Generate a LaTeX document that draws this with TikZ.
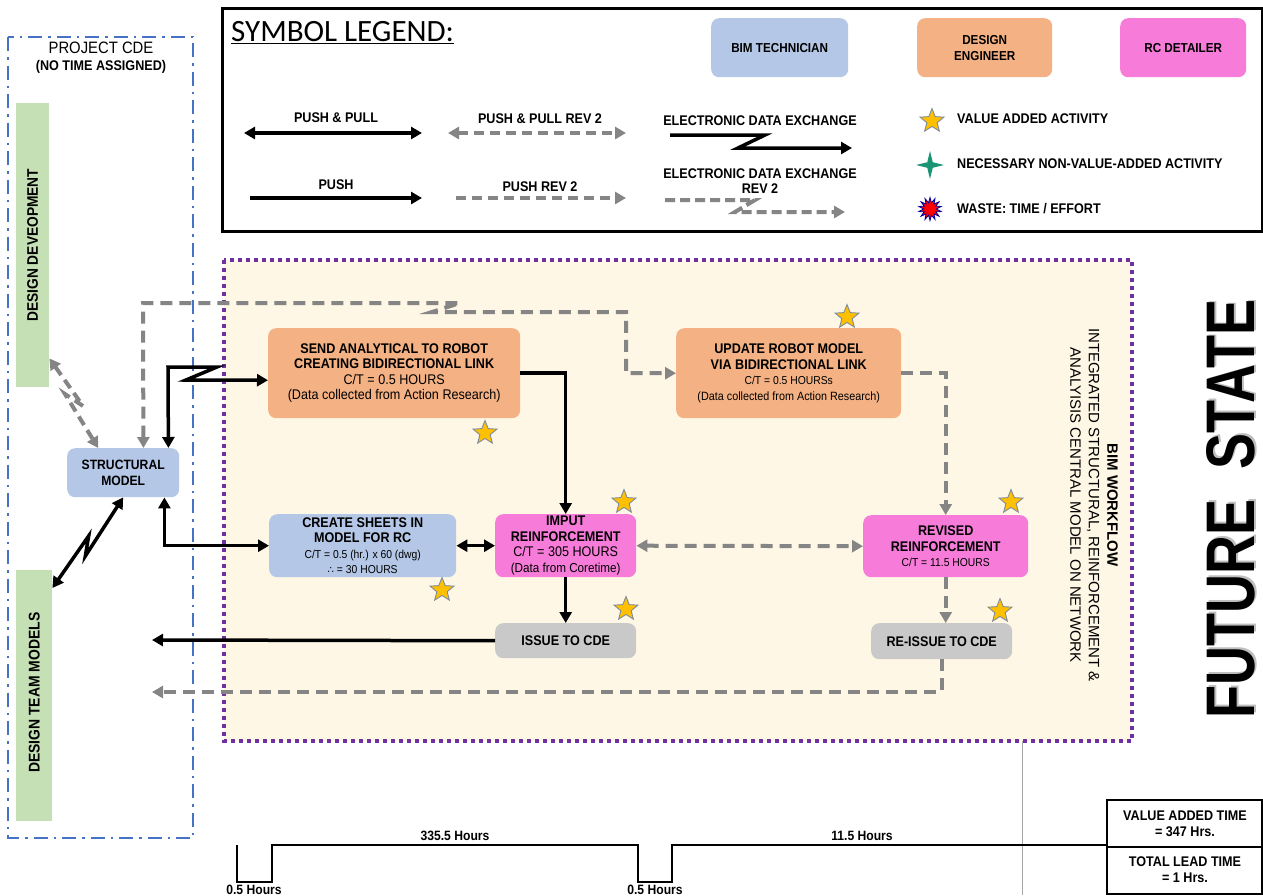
\documentclass[tikz,border=0pt]{standalone}
\usepackage{fontspec}
\setmainfont[FakeStretch=0.9]{Liberation Sans}
\newfontfamily\widesans{Liberation Sans}
\newfontfamily\titlefont{Carlito}
\newfontfamily\symfont{DejaVu Sans}
\usetikzlibrary{arrows.meta,shapes.geometric,calc}

\definecolor{bim}{HTML}{B4C7E7}
\definecolor{eng}{HTML}{F4B183}
\definecolor{rcd}{HTML}{F77BD9}
\definecolor{cdeg}{HTML}{C9C9C9}
\definecolor{barg}{HTML}{C5E0B4}
\definecolor{cream}{HTML}{FFF7E6}
\definecolor{purp}{HTML}{7030A0}
\definecolor{cdeblue}{HTML}{4472C4}
\definecolor{arrg}{HTML}{858585}
\definecolor{stary}{HTML}{FFC000}
\definecolor{starline}{HTML}{7F8C9C}
\definecolor{nnva}{HTML}{1B9473}

\newcommand\fb{\fontsize{14}{15.5}\selectfont\bfseries}
\newcommand\fr{\fontsize{14}{15.5}\selectfont\mdseries}
\newcommand\fs{\fontsize{11.5}{15.5}\selectfont\mdseries}
\newcommand\fl{\fontsize{14}{16}\selectfont\bfseries}

\tikzset{
  box/.style={rounded corners=8pt, inner sep=0pt, align=center, anchor=north west,
    font=\fontsize{14}{15.5}\selectfont\bfseries},
  bimbox/.style={box, fill=bim},
  engbox/.style={box, fill=eng},
  rcbox/.style={box, fill=rcd},
  cdebox/.style={box, fill=cdeg},
  keybox/.style={font=\fontsize{13}{16}\selectfont\bfseries},
  bar/.style={fill=barg, inner sep=0pt, anchor=north west},
  blk/.style={draw=black, line width=3.5pt, -{Triangle[length=11pt,width=12pt]}},
  blk2/.style={blk, {Triangle[length=11pt,width=12pt]}-{Triangle[length=11pt,width=12pt]}},
  gry/.style={draw=arrg, line width=4pt, dash pattern=on 12pt off 7pt, -{Triangle[length=11pt,width=12pt]}},
  gry2/.style={gry, {Triangle[length=11pt,width=12pt]}-{Triangle[length=11pt,width=12pt]}},
  vstar/.style={star, star points=5, star point ratio=2.3, minimum size=25pt, inner sep=0pt,
    fill=stary, draw=starline, line width=0.9pt},
  lbl/.style={font=\fl, inner sep=0pt},
}

\begin{document}
\begin{tikzpicture}[x=1pt,y=-1pt]
\useasboundingbox (0,0) rectangle (1263,895);
\clip (0,0) rectangle (1263,895);
\fill[white] (0,0) rectangle (1263,895);

% ---------- frames ----------
\draw[purp, line width=4pt, dash pattern=on 4pt off 4pt, fill=cream] (224,260) rectangle (1132,741);
\draw[cdeblue, line width=2.5pt, dash pattern=on 14pt off 6pt on 2.5pt off 6pt] (8,37) rectangle (193,838);
\draw[line width=3pt] (222,8) rectangle (1262,231);

% ---------- legend ----------
\node[anchor=west, inner sep=0pt] (ltitle) at (231,33) {\titlefont\fontsize{31}{31}\selectfont\underline{SYMBOL LEGEND:}};
\node[bimbox, keybox, minimum width=137pt, minimum height=59pt] (lbim) at (711,18) {BIM TECHNICIAN};
\node[engbox, keybox, minimum width=135pt, minimum height=59pt] (ldes) at (917,18) {DESIGN\\ENGINEER};
\node[rcbox, keybox, minimum width=126pt, minimum height=59pt] (lrc) at (1120,18) {RC DETAILER};

\node[lbl] (tpp) at (336,118) {PUSH \& PULL};
\coordinate (pp1) at (244,133); \coordinate (pp2) at (422,133);
\draw[blk2] (pp1) -- (pp2);
\node[lbl] (tppr) at (540,119) {PUSH \& PULL REV 2};
\coordinate (ppr1) at (448,133); \coordinate (ppr2) at (626,133);
\draw[gry2, dash pattern=on 10pt off 6pt] (ppr1) -- (ppr2);
\node[lbl] (tpu) at (336,185) {PUSH};
\coordinate (pu1) at (250,198); \coordinate (pu2) at (422,198);
\draw[blk] (pu1) -- (pu2);
\node[lbl] (tpur) at (540,187) {PUSH REV 2};
\coordinate (pur1) at (456,198); \coordinate (pur2) at (626,198);
\draw[gry, dash pattern=on 10pt off 6pt] (pur1) -- (pur2);
\node[lbl] (tede) at (760,121) {ELECTRONIC DATA EXCHANGE};
\coordinate (ede1) at (670,135); \coordinate (ede2) at (852,148);
\draw[blk] (ede1) -- (765,135) -- (738,148) -- (ede2);
\node[lbl, align=center, font=\fontsize{14}{15}\selectfont\bfseries] (tedr) at (760,181) {ELECTRONIC DATA EXCHANGE\\REV 2};
\coordinate (edr1) at (665,200); \coordinate (edr2) at (845,212);
\draw[gry, dash pattern=on 10pt off 5pt] (edr1) -- (755,200) -- (735,212) -- (edr2);

\node[vstar] (lva) at (932,121) {};
\node[star, star points=4, star point ratio=3.6, minimum size=28pt, inner sep=0pt, fill=nnva] (lnn) at (930,165) {};
\node[star, star points=14, star point ratio=1.8, minimum size=23pt, inner sep=0pt, fill=red, draw=blue!60!black, line width=0.8pt] (lwa) at (930,209) {};
\node[lbl, anchor=west] (tva) at (957,119) {VALUE ADDED ACTIVITY};
\node[lbl, anchor=west] (tnn) at (957,164) {NECESSARY NON-VALUE-ADDED ACTIVITY};
\node[lbl, anchor=west] (twa) at (957,209) {WASTE: TIME / EFFORT};

% ---------- project CDE ----------
\node[inner sep=0pt] (cdet) at (101,48) {\fontsize{16.5}{16.5}\selectfont PROJECT CDE};
\node[inner sep=0pt] (cdes) at (101,67) {\fontsize{14}{14}\selectfont\bfseries (NO TIME ASSIGNED)};
\node[bar, minimum width=33pt, minimum height=284pt] (dd) at (16,103) {};
\node[rotate=90, inner sep=0pt] (ddt) at (dd.center) {\fontsize{15.3}{15.3}\selectfont\bfseries DESIGN DEVEOPMENT};
\node[bar, minimum width=36pt, minimum height=251pt] (dtm) at (16,570) {};
\node[rotate=90, inner sep=0pt] (dtmt) at ([yshift=3pt]dtm.center) {\fontsize{15.5}{15.5}\selectfont\bfseries DESIGN TEAM MODELS};

% ---------- process boxes ----------
\node[bimbox, font=\fontsize{13.5}{16}\selectfont\bfseries, minimum width=112pt, minimum height=49pt] (sm) at (67,448) {STRUCTURAL\\MODEL};
\node[engbox, minimum width=252pt, minimum height=90pt] (sa) at (268,328)
  {SEND ANALYTICAL TO ROBOT\\CREATING BIDIRECTIONAL LINK\\\fr C/T = 0.5 HOURS\\\fr (Data collected from Action Research)};
\node[engbox, minimum width=225pt, minimum height=90pt] (ur) at (676,328)
  {UPDATE ROBOT MODEL\\VIA BIDIRECTIONAL LINK\\\fs C/T = 0.5 HOURSs\\\fontsize{12}{15.5}\selectfont\mdseries (Data collected from Action Research)};
\node[bimbox, minimum width=187pt, minimum height=63pt] (cs) at (269,514)
  {CREATE SHEETS IN\\MODEL FOR RC\\\fs C/T = 0.5 (hr.) x 60 (dwg)\\\fs{\symfont\fontsize{10}{10}\selectfont ∴} = 30 HOURS};
\node[rcbox, minimum width=141pt, minimum height=63pt] (ir) at (495,514)
  {IMPUT\\REINFORCEMENT\\\fr C/T = 305 HOURS\\\fontsize{13}{15.5}\selectfont\mdseries (Data from Coretime)};
\node[rcbox, minimum width=165pt, minimum height=62pt] (rr) at (863,515)
  {REVISED\\REINFORCEMENT\\\fs C/T = 11.5 HOURS};
\node[cdebox, minimum width=141pt, minimum height=35pt] (ic) at (495,623) {ISSUE TO CDE};
\node[cdebox, minimum width=141pt, minimum height=36pt] (ri) at (871,623) {RE-ISSUE TO CDE};

% value added stars
\node[vstar] (st1) at (485,433) {};
\node[vstar] (st2) at (847,317) {};
\node[vstar] (st3) at (442,590) {};
\node[vstar] (st4) at (624,502) {};
\node[vstar] (st5) at (1011,502) {};
\node[vstar] (st6) at (626,609) {};
\node[vstar] (st7) at (1000,611) {};

% workflow caption
\node[rotate=-90, align=center, inner sep=0pt, font=\fontsize{15}{18.5}\selectfont] (wf) at (1094,505)
  {\widesans\bfseries BIM WORKFLOW\\
   \widesans INTEGRATED STRUCTURAL, REINFORCEMENT \&\\
   \widesans ANALYISIS CENTRAL MODEL ON NETWORK};

% ---------- connectors ----------
% design development <-> structural model (electronic, rev 2)
\draw[gry2, dash pattern=on 10pt off 6pt] ([yshift=29pt]dd.south east) -- (83,406) -- (65,394) -- ([xshift=-25pt]sm.north);
% design team models <-> structural model (electronic)
\draw[blk2] ([yshift=-18pt]dtm.north east) -- (88.7,535.9) -- (85.3,556.1) -- (sm.south);
% structural model <-> send analytical (electronic)
\draw[blk2] ([xshift=-11pt]sm.north east) -- (168,367) -- (217,367) -- (186,380) -- ([yshift=-7pt]sa.west);
% structural model <-> create sheets
\draw[blk2] ([xshift=-15pt]sm.south east) |- (cs.west);
% send analytical -> imput reinforcement
\draw[blk] (sa.east) -| (ir.north);
% create sheets <-> imput
\draw[blk2] (cs.east) -- (ir.west);
% imput -> issue
\draw[blk] (ir.south) -- (ic.north);
% issue -> project CDE
\coordinate (iss) at (152,640);
\draw[blk] (ic.west) -- (iss);
% imput <-> revised
\draw[gry2] (ir.east) -- (rr.west);
% structural model <-> update robot model (electronic, rev 2)
\draw[gry2] ([xshift=-36pt]sm.north east) -- (143,303) -- (460,303) -- (432,312) -- (626,312) |- (ur.west);
% update robot -> revised
\draw[gry] (ur.east) -| (rr.north);
% revised -> re-issue
\draw[gry] (rr.south) -- (rr.south |- ri.north);
% re-issue -> project CDE
\coordinate (riss) at (152,692);
\draw[gry] (ri.south) |- (riss);

% ---------- timeline ----------
\draw[gray!70, line width=1pt] (1022,741) -- (1022,895);
\draw[line width=2pt] (237,845) -- (237,882) -- (272,882) -- (272,845) -- (638,845)
  -- (638,882) -- (672,882) -- (672,845) -- (1263,845);
\node[inner sep=0pt] (t1) at (455,836) {\fontsize{13.5}{14}\selectfont\bfseries 335.5 Hours};
\node[inner sep=0pt] (t2) at (862,836) {\fontsize{13.5}{14}\selectfont\bfseries 11.5 Hours};
\node[inner sep=0pt, anchor=north] (t3) at (254,885) {\fontsize{13.5}{14}\selectfont\bfseries 0.5 Hours};
\node[inner sep=0pt, anchor=north] (t4) at (655,885) {\fontsize{13.5}{14}\selectfont\bfseries 0.5 Hours};

\draw[line width=2pt, fill=white] (1107,800) rectangle (1262,894);
\draw[line width=2pt] (1107,847) -- (1262,847);
\node[align=center, inner sep=0pt, font=\fontsize{14}{16}\selectfont\bfseries] (vat) at (1185,824) {VALUE ADDED TIME\\= 347 Hrs.};
\node[align=center, inner sep=0pt, font=\fontsize{14}{16}\selectfont\bfseries] (tlt) at (1185,870) {TOTAL LEAD TIME\\= 1 Hrs.};

% ---------- title ----------
\node[rotate=90, inner sep=0pt, text=gray!50] (fsg) at (1233,507.5) {\resizebox{418pt}{48pt}{\bfseries FUTURE\ \ STATE}};
\node[rotate=90, inner sep=0pt] (fs) at (1231,509) {\resizebox{418pt}{48pt}{\bfseries FUTURE\ \ STATE}};
\end{tikzpicture}
\end{document}
